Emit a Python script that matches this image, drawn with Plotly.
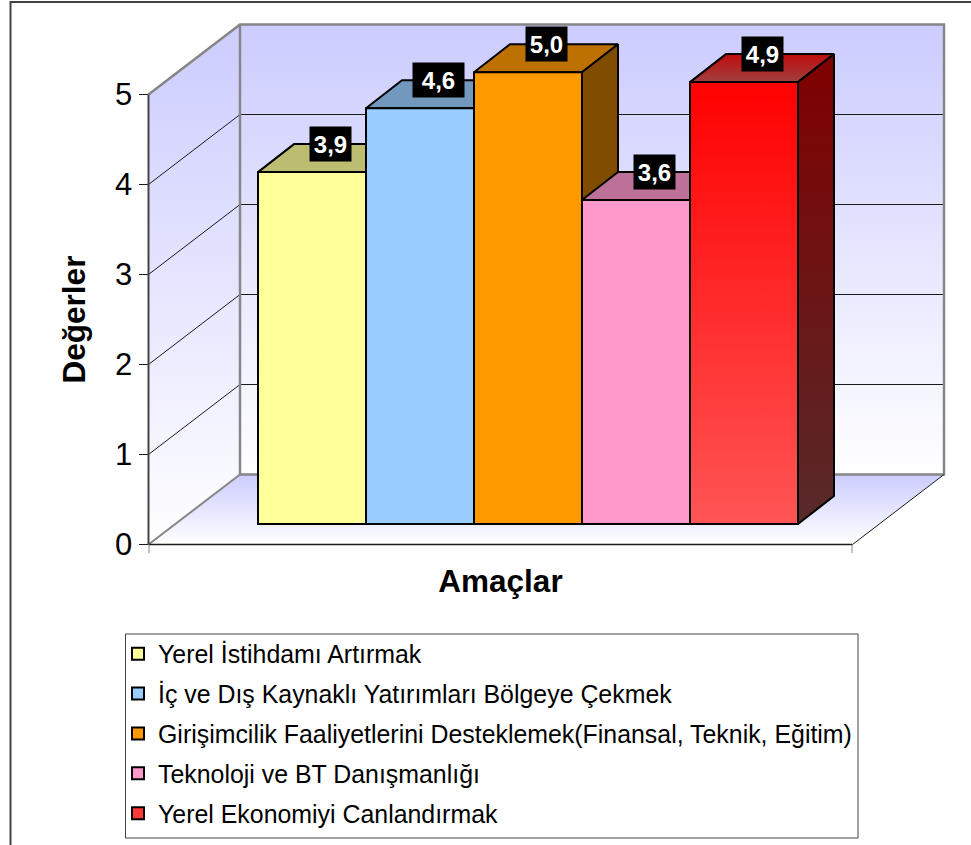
import plotly.graph_objects as go

# ---- data ----
categories = [
    "Yerel İstihdamı Artırmak",
    "İç ve Dış Kaynaklı Yatırımları Bölgeye Çekmek",
    "Girişimcilik Faaliyetlerini Desteklemek(Finansal, Teknik, Eğitim)",
    "Teknoloji ve BT Danışmanlığı",
    "Yerel Ekonomiyi Canlandırmak",
]
values = [3.91, 4.62, 5.02, 3.60, 4.91]
value_labels = ["3,9", "4,6", "5,0", "3,6", "4,9"]
y_ticks = [0, 1, 2, 3, 4, 5]
x_title = "Amaçlar"
y_title = "Değerler"

# ---- styles ----
front_colors = ["#FFFF99", "#99CCFF", "#FF9900", "#FF99CC", "#FF3838"]
top_colors = ["#BDBD71", "#7298BD", "#BD7100", "#BD7198", None]
side_colors = ["#807F4C", "#4C6680", "#7F4C00", "#7F4C66", None]
label_widths = [37, 47, 37, 37, 37]

W, H = 971, 845
LEFT, RIGHT, TOP, BOTTOM = 148.5, 852.5, 94.5, 544.5
PX_X = 108
X_MAX = (RIGHT - LEFT) / PX_X
PX_Y = (BOTTOM - TOP) / 5
DX, DY = 91.5 / PX_X, 70 / PX_Y            # full chart depth
BAR_START = (258 - LEFT) / PX_X
BAR_LIFT = 20.5 / PX_Y                     # front of the bars above the floor front
BAR_DX, BAR_DY = 36 / PX_X, 28 / PX_Y      # depth of a bar
FONT = "Liberation Sans"
GRAY = "#868686"
DARK = "#1A1A1A"

# the marks live on full-window axes with the same scale as the front-plane axes,
# so that the oblique depth can extend past the front plane
FULL_X = [-LEFT / PX_X, (W - LEFT) / PX_X]
FULL_Y = [-(H - BOTTOM) / PX_Y, BOTTOM / PX_Y]

fig = go.Figure()

# front-plane axes carry ticks and titles
fig.add_trace(go.Scatter(x=[0, X_MAX], y=[0, 0], mode="lines", showlegend=False,
                         hoverinfo="skip", line=dict(color="rgba(0,0,0,0)", width=0)))


def poly(xs, ys, fill=None, grad=None, line="black", lw=2, axes=("x2", "y2")):
    kw = dict(
        x=xs, y=ys, mode="lines", showlegend=False, hoverinfo="skip",
        cliponaxis=False, xaxis=axes[0], yaxis=axes[1],
        line=dict(color=line, width=lw),
    )
    if fill or grad:
        kw["fill"] = "toself"
    if fill:
        kw["fillcolor"] = fill
    if grad:
        kw["fillgradient"] = dict(type="vertical", colorscale=[[0, grad[0]], [1, grad[1]]])
    fig.add_trace(go.Scatter(**kw))


# walls and floor
poly([0, X_MAX, X_MAX + DX, DX, 0], [0, 0, DY, DY, 0],
     grad=("#FFFFFF", "#CCCCFF"), line="rgba(0,0,0,0)", lw=0)
poly([DX, X_MAX + DX, X_MAX + DX, DX, DX], [DY, DY, DY + 5, DY + 5, DY],
     grad=("#FFFFFF", "#CCCCFF"), line="rgba(0,0,0,0)", lw=0)
poly([0, DX, DX, 0, 0], [0, DY, DY + 5, 5, 0],
     grad=("#FFFFFF", "#CCCCFF"), line="rgba(0,0,0,0)", lw=0)

# gridlines
for k in y_ticks[1:-1]:
    poly([0, DX, X_MAX + DX], [k, k + DY, k + DY], line=DARK, lw=1)

# wall edges
poly([0, DX, X_MAX + DX, X_MAX + DX, DX, DX],
     [5, 5 + DY, 5 + DY, DY, DY, 5 + DY], line=GRAY, lw=2.5)
poly([0, DX], [0, DY], line=GRAY, lw=2)
poly([X_MAX, X_MAX + DX], [0, DY], line=DARK, lw=1)

# frame lines of the front plane
poly([0, 0], [0, 5], line="#444444", lw=2)
poly([0, X_MAX], [0, 0], line=DARK, lw=1.5)

# tops and sides, left to right so that later bars hide earlier ones
for i, v in enumerate(values):
    x0 = BAR_START + i
    x1 = x0 + 1
    y0 = BAR_LIFT
    y1 = BAR_LIFT + v
    if top_colors[i]:
        top_kw = dict(fill=top_colors[i])
        side_kw = dict(fill=side_colors[i])
    else:
        top_kw = dict(grad=("#A04040", "#C00C0C"))
        side_kw = dict(grad=("#582A2A", "#800000"))
    poly([x0, x1, x1 + BAR_DX, x0 + BAR_DX, x0],
         [y1, y1, y1 + BAR_DY, y1 + BAR_DY, y1], **top_kw)
    poly([x1, x1 + BAR_DX, x1 + BAR_DX, x1, x1],
         [y0, y0 + BAR_DY, y1 + BAR_DY, y1, y0], **side_kw)

# front faces as real bars, on an overlaid pair of axes so they sit above the sides
for i, (name, v) in enumerate(zip(categories, values)):
    fig.add_trace(go.Bar(
        x=[BAR_START + i + 0.5], y=[v], base=[BAR_LIFT], width=[1], name=name,
        marker=dict(color=front_colors[i], line=dict(color="black", width=2)),
        xaxis="x3", yaxis="y3", legendgroup=name,
        hovertemplate=name + ": %{y}<extra></extra>",
    ))

# gradient of the red front face
xr = BAR_START + 4
poly([xr, xr + 1, xr + 1, xr, xr],
     [BAR_LIFT, BAR_LIFT, BAR_LIFT + values[4], BAR_LIFT + values[4], BAR_LIFT],
     grad=("#FF5555", "#FF0000"), axes=("x3", "y3"))

annotations = []
for i, (v, lab) in enumerate(zip(values, value_labels)):
    annotations.append(dict(
        x=BAR_START + i + 0.5 + BAR_DX / 2, y=BAR_LIFT + v + BAR_DY,
        xref="x3", yref="y3", text=lab, showarrow=False, bgcolor="black",
        width=label_widths[i], height=30, borderpad=2,
        font=dict(family=FONT, size=24, color="white", weight="bold"),
    ))

shapes = [
    # chart-area border: left and top edge
    dict(type="line", xref="paper", yref="paper", x0=10.5 / W, x1=10.5 / W, y0=0, y1=1 - 1 / H,
         line=dict(color="#444444", width=2)),
    dict(type="line", xref="paper", yref="paper", x0=10 / W, x1=1, y0=1 - 2 / H, y1=1 - 2 / H,
         line=dict(color="#444444", width=2)),
    # legend frame
    dict(type="rect", xref="paper", yref="paper", x0=125.5 / W, x1=858 / W,
         y0=1 - 838 / H, y1=1 - 634 / H, line=dict(color="#444444", width=1)),
    # stubs under the horizontal axis ends
    dict(type="line", xref="x", yref="paper", x0=0, x1=0, y0=1 - 553 / H, y1=1 - BOTTOM / H,
         line=dict(color=GRAY, width=2)),
    dict(type="line", xref="x", yref="paper", x0=X_MAX, x1=X_MAX, y0=1 - 553 / H, y1=1 - BOTTOM / H,
         line=dict(color=GRAY, width=2)),
]

dom_x = [LEFT / W, RIGHT / W]
dom_y = [1 - BOTTOM / H, 1 - TOP / H]

fig.update_layout(
    width=W, height=H, margin=dict(l=0, r=0, t=0, b=0, autoexpand=False),
    paper_bgcolor="white", plot_bgcolor="rgba(0,0,0,0)",
    font=dict(family=FONT, color="black"),
    barmode="overlay",
    xaxis=dict(domain=dom_x, range=[0, X_MAX], showgrid=False, zeroline=False,
               showticklabels=False, ticks="", fixedrange=True, automargin=False,
               title=dict(text=x_title, standoff=25,
                          font=dict(family=FONT, size=31.5, weight="bold"))),
    yaxis=dict(domain=dom_y, range=[0, 5], tickvals=y_ticks, showgrid=False, zeroline=False,
               ticks="outside", ticklen=9, tickwidth=1, tickcolor=DARK, fixedrange=True,
               automargin=False, tickfont=dict(family=FONT, size=31),
               title=dict(text=y_title, standoff=20,
                          font=dict(family=FONT, size=31.5, weight="bold"))),
    xaxis2=dict(domain=[0, 1], range=FULL_X, anchor="y2", visible=False, fixedrange=True),
    yaxis2=dict(domain=[0, 1], range=FULL_Y, anchor="x2", visible=False, fixedrange=True),
    xaxis3=dict(domain=[0, 1], range=FULL_X, overlaying="x2", anchor="y3", visible=False,
                fixedrange=True),
    yaxis3=dict(domain=[0, 1], range=FULL_Y, overlaying="y2", anchor="x3", visible=False,
                fixedrange=True),
    legend=dict(x=118 / W, y=1 - 631 / H, xanchor="left", yanchor="top",
                bgcolor="rgba(0,0,0,0)", borderwidth=0, tracegroupgap=4.5,
                font=dict(family=FONT, size=24.9), traceorder="grouped"),
    annotations=annotations, shapes=shapes,
)

fig.write_html("out.html", post_script="document.body.style.margin='0';",
               config={"displayModeBar": False})
